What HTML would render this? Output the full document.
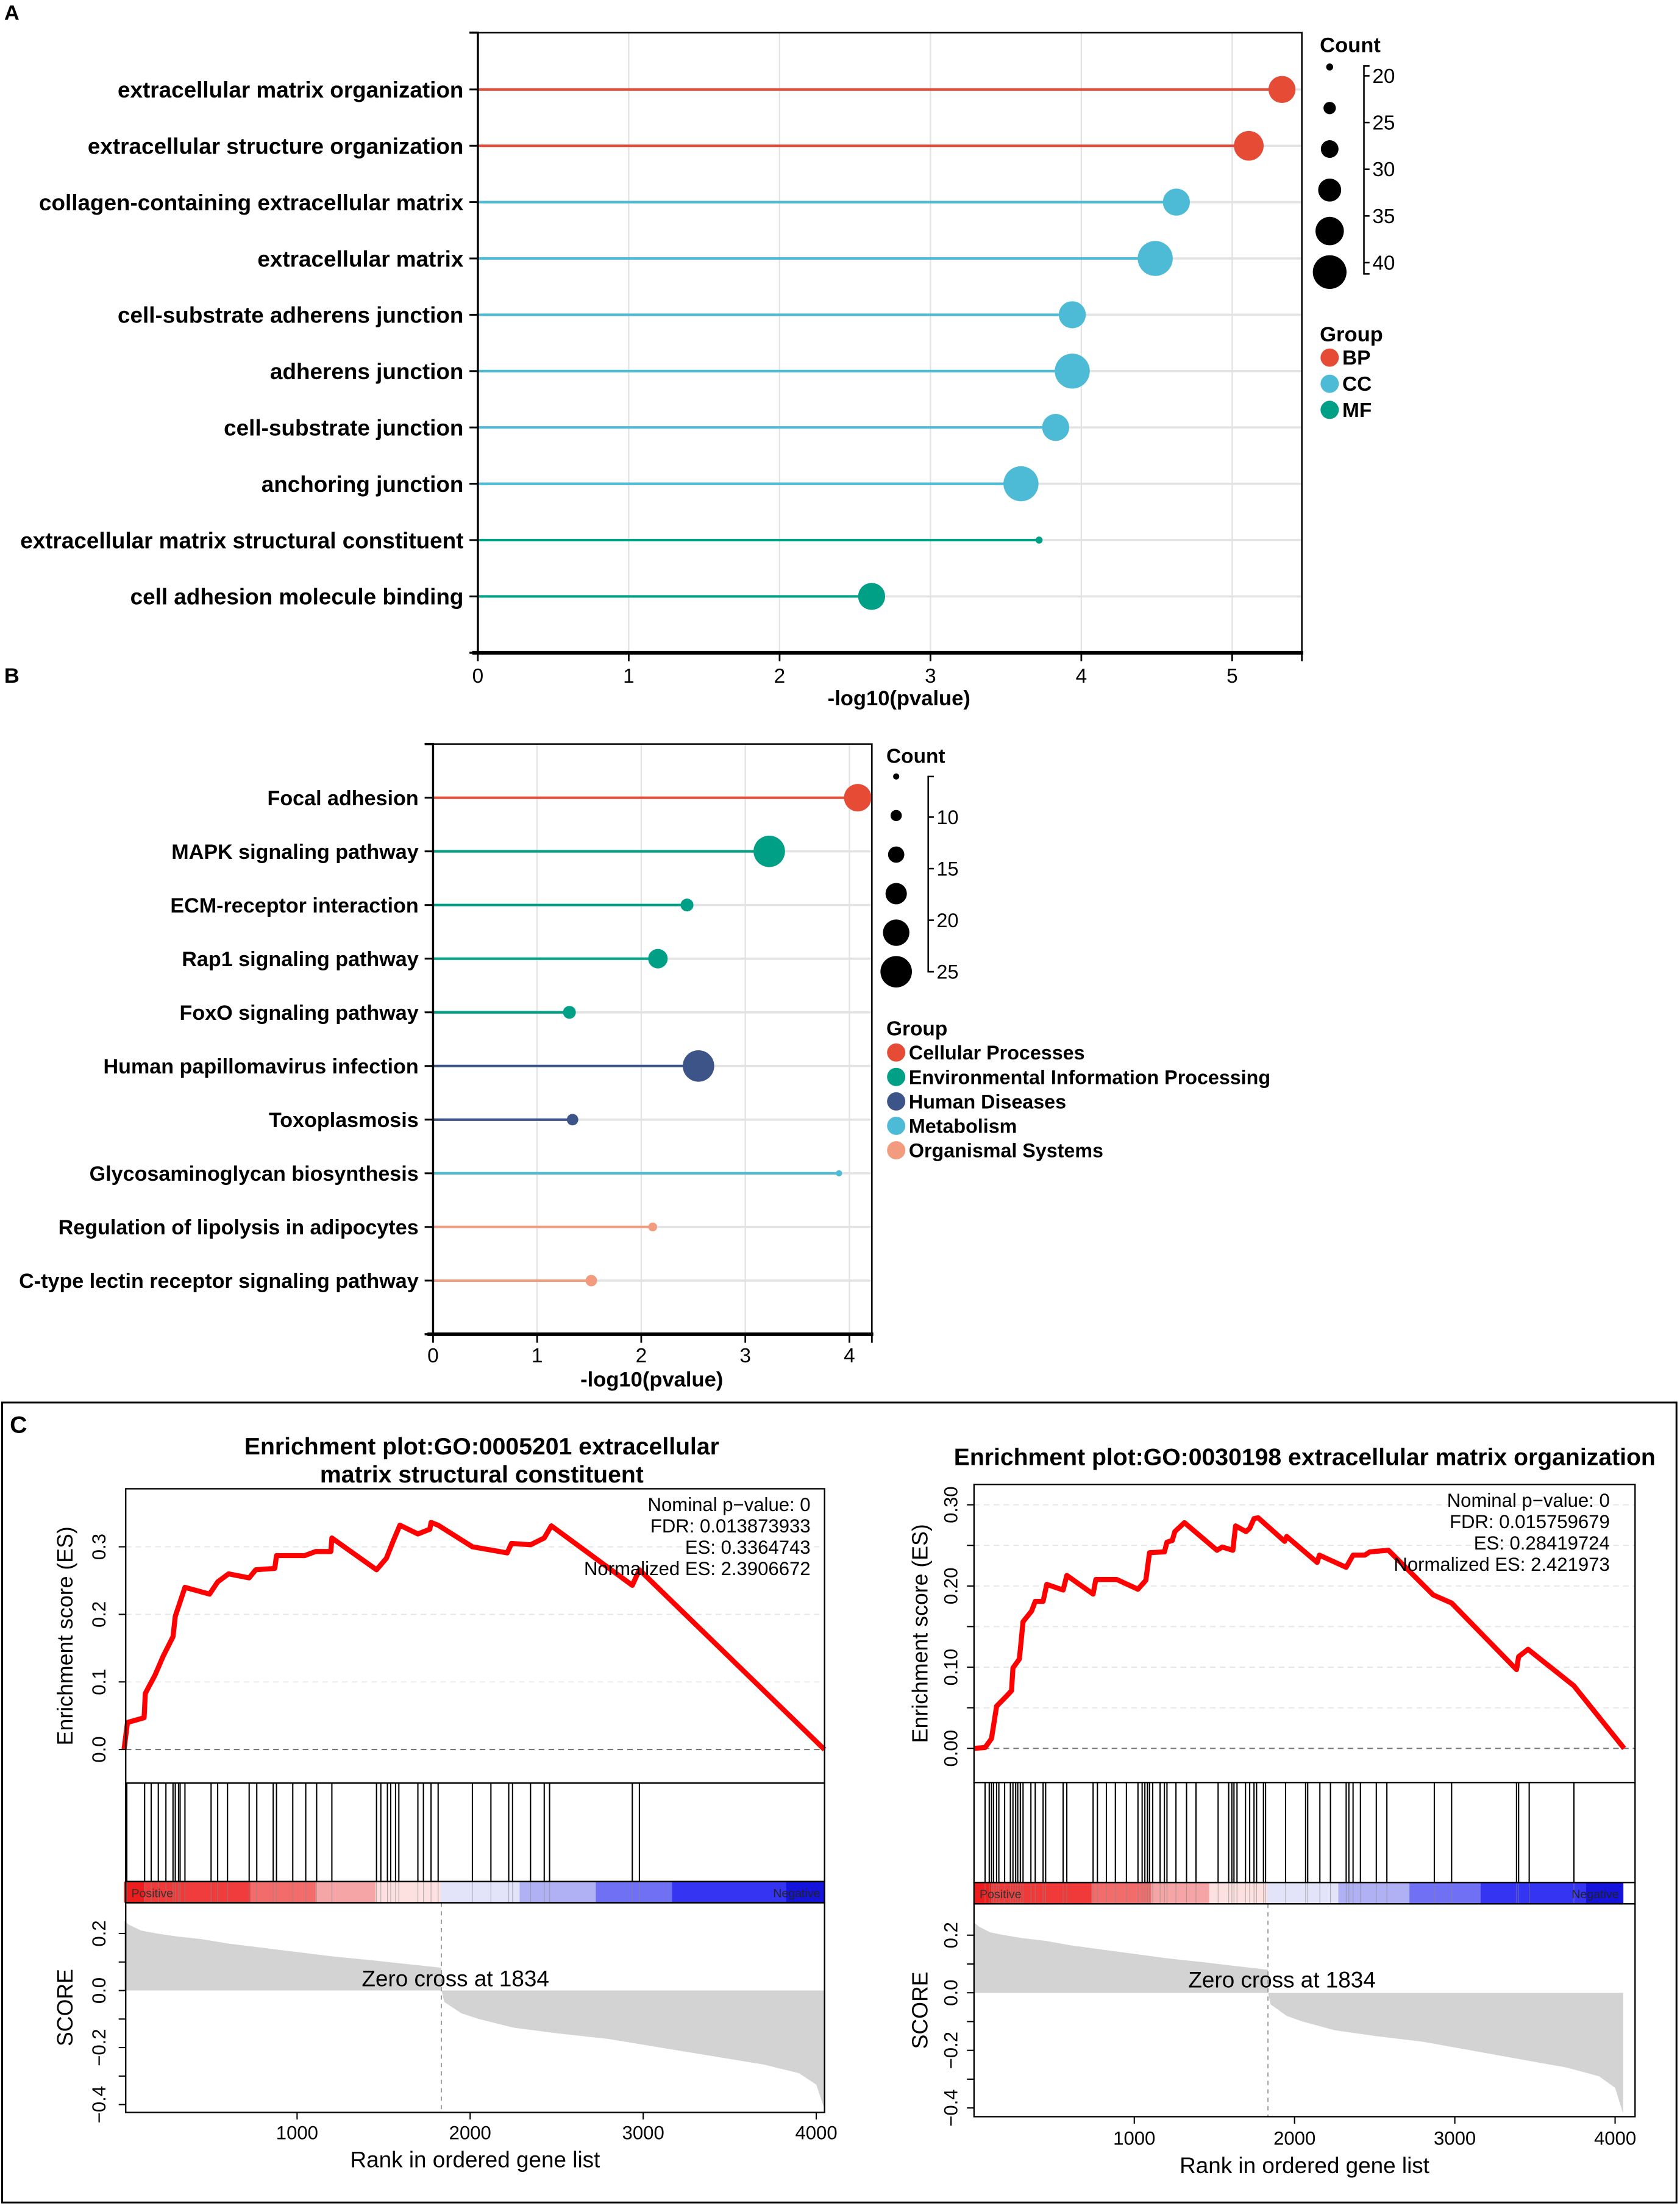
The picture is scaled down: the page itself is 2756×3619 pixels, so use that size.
<!DOCTYPE html>
<html><head><meta charset="utf-8"><style>
html,body{margin:0;padding:0;background:#fff;}
svg{display:block;font-family:"Liberation Sans",Arial,sans-serif;}
</style></head><body>
<svg id="fig" xmlns="http://www.w3.org/2000/svg" width="2756" height="3619" viewBox="0 0 1196 1570.5" preserveAspectRatio="none">
<rect x="0" y="0" width="1196" height="1570.5" fill="#fff"/>
<text x="3" y="14" font-size="15" font-weight="bold">A</text>
<text x="3" y="486" font-size="15" font-weight="bold">B</text>
<rect x="1.5" y="998.5" width="1192" height="569.5" fill="none" stroke="#000" stroke-width="1.3"/>
<text x="7" y="1020" font-size="17" font-weight="bold">C</text>
<g id="gA"></g>
<g id="gB"></g>
<g id="gC1"></g>
<g id="gC2"></g>
</svg>
<script>
// ---------- Panel A data ----------
const aTerms=["extracellular matrix organization","extracellular structure organization","collagen-containing extracellular matrix","extracellular matrix","cell-substrate adherens junction","adherens junction","cell-substrate junction","anchoring junction","extracellular matrix structural constituent","cell adhesion molecule binding"];
const aValues=[5.33,5.11,4.63,4.49,3.94,3.94,3.83,3.60,3.72,2.61];
const aCounts=[35,37,35,41,35,41,35,41,20,35];
const aGroups=["BP","BP","CC","CC","CC","CC","CC","CC","MF","MF"];
const aTicks=[0,1,2,3,4,5];
const aGroupNames=["BP","CC","MF"];
const aCountLegend=[20,24,28,32,36,40];
const aCountLabels=[20,25,30,35,40];
// ---------- Panel B data ----------
const bTerms=["Focal adhesion","MAPK signaling pathway","ECM-receptor interaction","Rap1 signaling pathway","FoxO signaling pathway","Human papillomavirus infection","Toxoplasmosis","Glycosaminoglycan biosynthesis","Regulation of lipolysis in adipocytes","C-type lectin receptor signaling pathway"];
const bValues=[4.08,3.23,2.44,2.16,1.31,2.55,1.34,3.90,2.11,1.52];
const bCounts=[22,25,11,16,11,25,10,6,8,10];
const bGroups=["Cellular Processes","Environmental Information Processing","Environmental Information Processing","Environmental Information Processing","Environmental Information Processing","Human Diseases","Human Diseases","Metabolism","Organismal Systems","Organismal Systems"];
const bTicks=[0,1,2,3,4];
const bGroupNames=["Cellular Processes","Environmental Information Processing","Human Diseases","Metabolism","Organismal Systems"];
const bCountLegend=[6,9.8,13.6,17.4,21.2,25];
const bCountLabels=[10,15,20,25];
// ---------- Panel C data ----------
const leftEsRank=[0,20,116,123,179,226,283,296,352,494,541,604,723,761,871,881,1044,1107,1195,1201,1459,1516,1553,1594,1698,1767,1774,1815,2013,2214,2239,2349,2428,2469,2937,2978,4047];
const leftEsVal=[0,0.04,0.047,0.083,0.11,0.138,0.167,0.197,0.24,0.23,0.248,0.26,0.254,0.266,0.268,0.287,0.287,0.293,0.293,0.313,0.266,0.283,0.307,0.332,0.319,0.326,0.336,0.332,0.30,0.291,0.305,0.303,0.313,0.331,0.243,0.266,0];
const leftHits=[16,119,157,198,242,283,296,315,324,352,503,541,598,723,767,862,881,975,1050,1113,1201,1459,1484,1522,1541,1569,1588,1698,1730,1774,1815,2013,2120,2223,2245,2349,2428,2459,2937,2978];
const rightEsRank=[0,69,109,141,201,234,243,283,306,359,382,431,454,556,579,743,760,891,1023,1072,1095,1188,1204,1237,1253,1313,1516,1549,1615,1632,1697,1720,1747,1773,1938,1951,2141,2155,2322,2365,2438,2470,2586,2865,2980,3385,3398,3457,3743,4056];
const rightEsVal=[0,0.001,0.012,0.052,0.064,0.071,0.099,0.110,0.156,0.169,0.181,0.181,0.202,0.195,0.213,0.190,0.208,0.208,0.196,0.207,0.241,0.242,0.254,0.256,0.267,0.278,0.244,0.248,0.244,0.274,0.267,0.271,0.283,0.284,0.255,0.261,0.229,0.238,0.223,0.238,0.238,0.242,0.244,0.189,0.179,0.097,0.113,0.122,0.077,0];
const rightHits=[69,95,109,122,141,155,191,227,243,260,273,289,306,355,382,431,447,556,579,743,770,826,882,951,1023,1049,1066,1082,1095,1115,1161,1188,1204,1260,1326,1385,1523,1589,1609,1622,1641,1694,1720,1747,1763,1806,1819,1944,2069,2082,2158,2224,2322,2339,2365,2411,2510,2576,2872,2980,3385,3398,3464,3743];
const leftCbarStart=[0,116,352,730,1107,1453,1830,2286,2726,3167,3827];
const leftCbarEnd=[116,352,730,1107,1453,1830,2286,2726,3167,3827,4047];
const leftCbarColors=["#ee1c1c","#f03a3a","#f03c3c","#f26c6c","#f5a5a5","#fde0e0","#e3e3fa","#b0b0f4","#7070f4","#3434f2","#1414dc"];
const rightCbarStart=[0,109,733,1105,1467,1829,2273,2717,3161,3819];
const rightCbarEnd=[109,733,1105,1467,1829,2273,2717,3161,3819,4049];
const rightCbarColors=["#ee1c1c","#f03a3a","#f26c6c","#f5a5a5","#fde0e0","#e3e3fa","#b0b0f4","#7070f4","#3434f2","#1414dc"];
const scoreRank=[0,30,100,190,300,450,600,800,1000,1200,1450,1600,1834,1835,1850,1900,1950,2050,2250,2500,2800,3100,3400,3700,3900,4000,4050];
const scoreVal=[0.245,0.23,0.21,0.2,0.19,0.18,0.165,0.15,0.135,0.12,0.105,0.095,0.08,0,-0.04,-0.06,-0.08,-0.1,-0.13,-0.15,-0.17,-0.2,-0.23,-0.26,-0.29,-0.33,-0.42];
const xTicksC=[1000,2000,3000,4000];

const NS="http://www.w3.org/2000/svg";
function mk(tag,attrs,parent){const e=document.createElementNS(NS,tag);for(const k in attrs)e.setAttribute(k,attrs[k]);parent.appendChild(e);return e;}
function tx(s,attrs,parent){const e=mk("text",attrs,parent);e.textContent=s;return e;}

const colA={BP:"#E64B35",CC:"#4DBBD5",MF:"#00A087"};
const colB={"Cellular Processes":"#E64B35","Environmental Information Processing":"#00A087","Human Diseases":"#3C5488","Metabolism":"#4DBBD5","Organismal Systems":"#F39B7F"};

function lollipop(g,cfg){
  const {terms,values,counts,groups,ticks,x0,ux,top,bottom,right,row0,rowStep,rFn,colors,labelX,fs,titleX,tickY,titleY}=cfg;
  const xs=v=>x0+v*ux;
  ticks.forEach(t=>{
    const gl=mk("line",{x1:xs(t),x2:xs(t),y1:top,y2:bottom,stroke:"#e3e3e3","stroke-width":1},g);
    
    
  });
  terms.forEach((t,i)=>{
    const y=row0+i*rowStep;
    const hl=mk("line",{x1:x0,x2:right,y1:y,y2:y,stroke:"#e3e3e3","stroke-width":1.6},g);
    
    
    const stem=mk("line",{x1:x0,x2:xs(values[i]),y1:y,y2:y,stroke:colors[groups[i]],"stroke-width":1.8},g);
    
    
    const dot=mk("circle",{cx:xs(values[i]),cy:y,r:rFn(counts[i]),fill:colors[groups[i]]},g);
    
    
    const tk=mk("line",{x1:x0-6,x2:x0,y1:y,y2:y,stroke:"#000","stroke-width":1.3},g);
    
    
    const lb=tx(t,{x:labelX,y:y+fs*0.36,"text-anchor":"end","font-size":fs,"font-weight":"bold"},g);
    
    
  });
  const fr=mk("path",{d:`M${x0},${top}H${right}V${bottom}`,fill:"none",stroke:"#000","stroke-width":1.1},g);
  
  
  const ya=mk("path",{d:`M${x0-6},${top}H${x0}V${bottom}H${x0-6}`,fill:"none",stroke:"#000","stroke-width":1.5},g);
  
  
  const xa=mk("line",{x1:x0-4,x2:right+1,y1:bottom,y2:bottom,stroke:"#000","stroke-width":2.6},g);
  
  
  const et=mk("line",{x1:right,x2:right,y1:bottom,y2:bottom+6,stroke:"#000","stroke-width":1.2},g);
  
  
  ticks.forEach(t=>{
    const tk=mk("line",{x1:xs(t),x2:xs(t),y1:bottom,y2:bottom+6,stroke:"#000","stroke-width":1.2},g);
    
    
    const tl=tx(String(t),{x:xs(t),y:tickY,"text-anchor":"middle","font-size":14.5},g);
    
    
  });
  const at=tx("-log10(pvalue)",{x:titleX,y:titleY,"text-anchor":"middle","font-size":15,"font-weight":"bold"},g);
  
  
}

function legends(g,cfg){
  const {lx,countTitleY,dotY0,dotStep,legendCounts,rFn,axX,axTop,axBot,labels,labY,groupTitleY,groupNames,colors,gy0,gStep,lfs}=cfg;
  const ct=tx("Count",{x:lx-7,y:countTitleY,"font-size":lfs,"font-weight":"bold"},g);
  
  
  legendCounts.forEach((c,i)=>{
    const d=mk("circle",{cx:lx,cy:dotY0+i*dotStep,r:rFn(c),fill:"#000"},g);
    
    
  });
  const ax=mk("path",{d:`M${axX+4},${axTop}H${axX}V${axBot}H${axX+4}`,fill:"none",stroke:"#000","stroke-width":1.1},g);
  
  
  labels.forEach(c=>{
    const y=labY(c);
    const t=mk("line",{x1:axX,x2:axX+4,y1:y,y2:y,stroke:"#000","stroke-width":1.1},g);
    
    
    const l=tx(String(c),{x:axX+6,y:y+5,"font-size":lfs-0.5},g);
    
    
  });
  const gt=tx("Group",{x:lx-7,y:groupTitleY,"font-size":lfs,"font-weight":"bold"},g);
  
  
  groupNames.forEach((n,i)=>{
    const y=gy0+i*gStep;
    const d=mk("circle",{cx:lx,cy:y,r:6.5,fill:colors[n]},g);
    
    
    const l=tx(n,{x:lx+9,y:y+5,"font-size":lfs-0.5,"font-weight":"bold"},g);
    
    
  });
}

const rA=c=>2.5+(c-20)*0.475;
lollipop(document.getElementById("gA"),{terms:aTerms,values:aValues,counts:aCounts,groups:aGroups,ticks:aTicks,x0:340.2,ux:107.4,top:23.2,bottom:464.7,right:926.8,row0:63.7,rowStep:40.1,rFn:rA,colors:colA,labelX:330,fs:16,titleX:640,tickY:486,titleY:502});
legends(document.getElementById("gA"),{lx:946.6,countTitleY:37,dotY0:47.7,dotStep:29.2,legendCounts:aCountLegend,rFn:rA,axX:971,axTop:47,axBot:195,labels:aCountLabels,labY:c=>54+(c-20)*6.65,groupTitleY:243,groupNames:aGroupNames,colors:colA,gy0:254.6,gStep:18.6,lfs:15});

const rB=c=>2.2+(c-6)*0.474;
lollipop(document.getElementById("gB"),{terms:bTerms,values:bValues,counts:bCounts,groups:bGroups,ticks:bTicks,x0:308.3,ux:74.1,top:529.7,bottom:949.9,right:620.7,row0:567.9,rowStep:38.2,rFn:rB,colors:colB,labelX:298,fs:14.8,titleX:464,tickY:970,titleY:987});
legends(document.getElementById("gB"),{lx:638,countTitleY:543,dotY0:552.8,dotStep:27.8,legendCounts:bCountLegend,rFn:rB,axX:660.8,axTop:552.8,axBot:691.8,labels:bCountLabels,labY:c=>581.7+(c-10)*7.34,groupTitleY:737,groupNames:bGroupNames,colors:colB,gy0:749.3,gStep:17.4,lfs:14.5});

function gsea(g,cfg){
  const {L,R,esTop,esBot,hitBot,cbBot,scBot,x0,ux,es0,esU,sc0,scU,esRank,esVal,hits,cbS,cbE,cbC,esTicks,esLabels,title,titleX,titleYs,stats,statsX,statsY0,yLabX,tickLabX,zeroY,xLabY,xTitleY}=cfg;
  const X=r=>x0+r*ux, YE=v=>es0-v*esU, YS=v=>sc0-v*scU;
  titleYs.forEach((y,i)=>{
    const t=tx(title[i],{x:titleX,y:y,"text-anchor":"middle","font-size":17,"font-weight":"bold"},g);
    
    
  });
  esTicks.forEach(v=>{
    const gl=mk("line",{x1:L,x2:R,y1:YE(v),y2:YE(v),stroke:"#e6e6e6","stroke-width":0.8,"stroke-dasharray":"4,3"},g);
    
    
  });
  const zl=mk("line",{x1:L,x2:R,y1:YE(0),y2:YE(0),stroke:"#777","stroke-width":0.9,"stroke-dasharray":"4,3"},g);
  
  
  const pts=esRank.map((r,i)=>X(r).toFixed(2)+","+YE(esVal[i]).toFixed(2)).join(" ");
  const line=mk("polyline",{points:pts,fill:"none",stroke:"#ff0000","stroke-width":3.6,"stroke-linejoin":"round"},g);
  
  
  stats.forEach((s,i)=>{
    const t=tx(s,{x:statsX,y:statsY0+i*15.2,"text-anchor":"end","font-size":13.5},g);
    
    
  });
  hits.forEach(r=>{
    const h=mk("line",{x1:X(r),x2:X(r),y1:esBot,y2:hitBot,stroke:"#000","stroke-width":0.9},g);
    
    
  });
  cbS.forEach((s,i)=>{
    const c=mk("rect",{x:X(s),y:hitBot,width:X(cbE[i])-X(s)+0.3,height:cbBot-hitBot,fill:cbC[i]},g);
    
    
  });
  hits.forEach(r=>{
    const h=mk("line",{x1:X(r),x2:X(r),y1:hitBot,y2:cbBot,stroke:"#888","stroke-width":0.5,"stroke-opacity":0.6},g);
    
    
  });
  const pl=tx("Positive",{x:L+4,y:cbBot-4,"font-size":8.5,fill:"#333"},g);
  
  
  const ngl=tx("Negative",{x:X(cbE[cbE.length-1])-3,y:cbBot-4,"font-size":8.5,"text-anchor":"end",fill:"#222"},g);
  
  
  let d=`M${X(scoreRank[0])},${YS(0)}`;
  scoreRank.forEach((r,i)=>{d+=`L${X(r).toFixed(2)},${YS(scoreVal[i]).toFixed(2)}`;});
  d+=`L${X(scoreRank[scoreRank.length-1])},${YS(0)}Z`;
  const area=mk("path",{d:d,fill:"#d3d3d3"},g);
  
  
  const zc=mk("line",{x1:X(1834),x2:X(1834),y1:cbBot,y2:scBot,stroke:"#999","stroke-width":0.8,"stroke-dasharray":"3,3"},g);
  
  
  const zt=tx("Zero cross at 1834",{x:X(1834)+10,y:zeroY,"text-anchor":"middle","font-size":16},g);
  
  
  [[esTop,esBot],[esBot,hitBot],[hitBot,cbBot],[cbBot,scBot]].forEach(p=>{
    const b=mk("rect",{x:L,y:p[0],width:R-L,height:p[1]-p[0],fill:"none",stroke:"#000","stroke-width":1},g);
    
    
  });
  esTicks.forEach((v,i)=>{
    const t=mk("line",{x1:L-5,x2:L,y1:YE(v),y2:YE(v),stroke:"#000","stroke-width":0.9},g);
    
    
    if(esLabels[i]!==""){
      const l=tx(esLabels[i],{x:tickLabX,y:YE(v),"text-anchor":"middle","dominant-baseline":"central","font-size":13.5,transform:`rotate(-90 ${tickLabX} ${YE(v)})`},g);
      
      
    }
  });
  [-0.4,-0.3,-0.2,-0.1,0,0.1,0.2].forEach(v=>{
    const t=mk("line",{x1:L-5,x2:L,y1:YS(v),y2:YS(v),stroke:"#000","stroke-width":0.9},g);
    
    
  });
  [-0.4,-0.2,0,0.2].forEach(v=>{
    const l=tx(v.toFixed(1).replace("-","\u2212"),{x:tickLabX,y:YS(v),"text-anchor":"middle","dominant-baseline":"central","font-size":13.5,transform:`rotate(-90 ${tickLabX} ${YS(v)})`},g);
    
    
  });
  const yl1=tx("Enrichment score (ES)",{x:yLabX,y:(esTop+esBot)/2,"text-anchor":"middle","dominant-baseline":"central","font-size":15.5,transform:`rotate(-90 ${yLabX} ${(esTop+esBot)/2})`},g);
  
  
  const yl2=tx("SCORE",{x:yLabX,y:(cbBot+scBot)/2,"text-anchor":"middle","dominant-baseline":"central","font-size":15.5,transform:`rotate(-90 ${yLabX} ${(cbBot+scBot)/2})`},g);
  
  
  xTicksC.forEach(r=>{
    const t=mk("line",{x1:X(r),x2:X(r),y1:scBot,y2:scBot+5,stroke:"#000","stroke-width":0.9},g);
    
    
    const l=tx(String(r),{x:X(r),y:xLabY,"text-anchor":"middle","font-size":13.5},g);
    
    
  });
  const xt=tx("Rank in ordered gene list",{x:(L+R)/2,y:xTitleY,"text-anchor":"middle","font-size":16},g);
  
  
}

gsea(document.getElementById("gC1"),{L:89.5,R:587,esTop:1059.9,esBot:1269.4,hitBot:1339.5,cbBot:1354.6,scBot:1503.9,x0:88.3,ux:0.1232,es0:1245.5,esU:481,sc0:1417.1,scU:203,
  esRank:leftEsRank,esVal:leftEsVal,hits:leftHits,cbS:leftCbarStart,cbE:leftCbarEnd,cbC:leftCbarColors,esTicks:[0,0.1,0.2,0.3],esLabels:["0.0","0.1","0.2","0.3"],
  title:["Enrichment plot:GO:0005201 extracellular","matrix structural constituent"],titleX:343,titleYs:[1035.5,1055.5],
  stats:["Nominal p\u2212value: 0","FDR: 0.013873933","ES: 0.3364743","Normalized ES: 2.3906672"],statsX:577,statsY0:1075.7,yLabX:46.5,tickLabX:70.5,zeroY:1414,xLabY:1523,xTitleY:1543});
gsea(document.getElementById("gC2"),{L:693.4,R:1164,esTop:1056.8,esBot:1269,hitBot:1340.2,cbBot:1355.4,scBot:1506.9,x0:693.4,ux:0.1141,es0:1244.7,esU:578,sc0:1418.7,scU:205,
  esRank:rightEsRank,esVal:rightEsVal,hits:rightHits,cbS:rightCbarStart,cbE:rightCbarEnd,cbC:rightCbarColors,esTicks:[0,0.05,0.1,0.15,0.2,0.25,0.3],esLabels:["0.00","","0.10","","0.20","","0.30"],
  title:["Enrichment plot:GO:0030198 extracellular matrix organization"],titleX:928.8,titleYs:[1043],
  stats:["Nominal p\u2212value: 0","FDR: 0.015759679","ES: 0.28419724","Normalized ES: 2.421973"],statsX:1146,statsY0:1072.7,yLabX:655,tickLabX:677,zeroY:1415,xLabY:1527,xTitleY:1547});
</script>
</body></html>
